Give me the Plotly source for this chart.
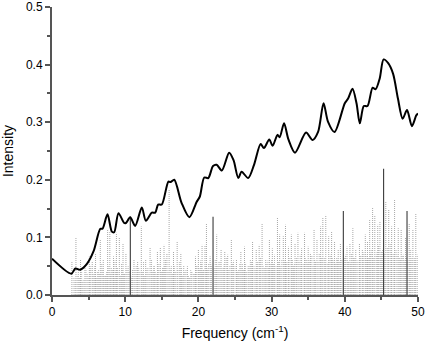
import plotly.graph_objects as go

# Calculated spectrum (broadened)
spec_x = [0, 2.63, 3.2, 3.86, 4.77, 5.68, 6.6, 6.9, 7.58, 8.18, 8.5, 9.08, 9.86, 10.1,
          10.68, 11.36, 12.27, 12.82, 13.64, 14.1, 14.5, 15.0, 15.9, 16.2, 16.7, 17.7,
          18.77, 19.77, 20.2, 20.8, 21.35, 22.0, 22.5, 23.2, 24.2, 24.8, 25.45, 25.9,
          26.8, 27.6, 28.5, 28.95, 29.68, 30.14, 30.8, 31.1, 31.7, 32.3, 33.2, 34.7,
          35.6, 36.35, 37.1, 37.7, 38.6, 40.0, 40.45, 41.05, 41.6, 42.05, 42.6, 43.1,
          43.8, 44.2, 44.77, 45.3, 45.9, 46.6, 47.26, 47.9, 48.5, 49.17, 49.77, 50.0]
spec_y = [0.063, 0.037, 0.046, 0.044, 0.054, 0.076, 0.115, 0.115, 0.140, 0.110, 0.109,
          0.142, 0.125, 0.125, 0.135, 0.120, 0.152, 0.129, 0.143, 0.143, 0.157, 0.157,
          0.197, 0.196, 0.200, 0.160, 0.135, 0.162, 0.171, 0.204, 0.203, 0.224, 0.226,
          0.216, 0.247, 0.234, 0.203, 0.214, 0.203, 0.226, 0.262, 0.255, 0.270, 0.259,
          0.278, 0.274, 0.298, 0.270, 0.247, 0.282, 0.269, 0.283, 0.333, 0.301, 0.283,
          0.333, 0.341, 0.358, 0.333, 0.298, 0.328, 0.328, 0.360, 0.357, 0.376, 0.409,
          0.403, 0.384, 0.341, 0.306, 0.321, 0.293, 0.312, 0.315]

# Gray dotted stick modes (frequency, intensity)
stick_x = [2.72, 3.27, 3.9, 4.5, 5.1, 5.5, 5.95, 6.6, 7.0, 7.6, 7.9, 8.4, 8.8, 9.2, 9.7,
           10.1, 11.2, 11.7, 12.2, 12.8, 13.4, 13.9, 14.4, 14.8, 15.3, 15.7, 16.0, 16.6,
           17.1, 17.6, 18.0, 18.5, 19.1, 19.6, 20.0, 20.5, 20.9, 21.1, 21.6, 22.5, 23.1,
           23.6, 24.0, 24.5, 25.2, 25.8, 26.3, 26.8, 27.4, 27.9, 28.3, 28.7, 29.2, 29.7,
           30.1, 30.8, 31.1, 31.6, 31.9, 32.3, 32.7, 33.2, 33.6, 34.1, 34.5, 35.0, 35.3,
           35.8, 36.2, 36.7, 37.0, 37.4, 37.8, 38.2, 38.6, 39.1, 39.4, 40.3, 40.7, 41.1,
           41.5, 42.0, 42.4, 42.8, 43.1, 43.4, 43.8, 44.1, 44.5, 44.8, 45.6, 46.0, 46.4,
           46.8, 47.3, 47.7, 48.3, 48.8, 49.3, 49.7]
stick_y = [0.058, 0.099, 0.061, 0.048, 0.067, 0.058, 0.073, 0.096, 0.061, 0.113, 0.110,
           0.067, 0.108, 0.099, 0.090, 0.073, 0.061, 0.058, 0.119, 0.061, 0.082, 0.050,
           0.076, 0.082, 0.087, 0.073, 0.183, 0.076, 0.093, 0.073, 0.052, 0.050, 0.041,
           0.067, 0.079, 0.087, 0.087, 0.125, 0.067, 0.105, 0.079, 0.076, 0.070, 0.096,
           0.061, 0.076, 0.084, 0.050, 0.093, 0.079, 0.087, 0.125, 0.061, 0.096, 0.081,
           0.134, 0.105, 0.102, 0.122, 0.084, 0.105, 0.090, 0.108, 0.081, 0.108, 0.084,
           0.073, 0.113, 0.096, 0.119, 0.134, 0.139, 0.102, 0.110, 0.093, 0.079, 0.090,
           0.084, 0.090, 0.116, 0.079, 0.090, 0.079, 0.105, 0.093, 0.131, 0.151, 0.139,
           0.122, 0.128, 0.162, 0.148, 0.119, 0.165, 0.116, 0.113, 0.099, 0.125, 0.113,
           0.142]
# Shorter background sticks filling the dense lower band
short_x = [3.0, 3.6, 4.2, 4.8, 5.3, 6.2, 6.8, 7.3, 8.1, 8.6, 9.0, 9.5, 9.9, 10.4, 11.0,
           11.5, 12.0, 12.5, 13.1, 13.6, 14.1, 14.6, 15.1, 15.5, 16.3, 16.9, 17.4, 17.8,
           18.3, 18.8, 19.3, 19.8, 20.3, 20.7, 21.4, 21.8, 22.3, 22.8, 23.4, 23.8, 24.3,
           24.8, 25.5, 26.0, 26.6, 27.1, 27.6, 28.1, 28.5, 29.0, 29.5, 29.9, 30.4, 30.6,
           31.4, 32.1, 32.5, 33.0, 33.4, 33.9, 34.3, 34.8, 35.5, 36.0, 36.5, 37.2, 37.6,
           38.0, 38.4, 38.9, 39.6, 40.1, 40.5, 40.9, 41.3, 41.8, 42.2, 42.6, 43.0, 43.6,
           44.3, 44.6, 45.0, 45.8, 46.2, 46.6, 47.0, 47.5, 48.0, 48.6, 49.0, 49.5, 49.9]
short_y = [0.030, 0.045, 0.025, 0.038, 0.050, 0.040, 0.055, 0.035, 0.048, 0.060, 0.042,
           0.055, 0.038, 0.050, 0.045, 0.052, 0.040, 0.058, 0.047, 0.062, 0.040, 0.055,
           0.048, 0.063, 0.050, 0.040, 0.057, 0.035, 0.045, 0.030, 0.038, 0.052, 0.060,
           0.045, 0.055, 0.050, 0.062, 0.058, 0.048, 0.065, 0.052, 0.060, 0.045, 0.055,
           0.040, 0.062, 0.050, 0.058, 0.066, 0.048, 0.060, 0.055, 0.070, 0.050, 0.062,
           0.058, 0.066, 0.050, 0.064, 0.070, 0.055, 0.062, 0.068, 0.058, 0.072, 0.064,
           0.056, 0.070, 0.060, 0.066, 0.062, 0.070, 0.058, 0.072, 0.064, 0.060, 0.068,
           0.074, 0.062, 0.080, 0.070, 0.085, 0.076, 0.082, 0.090, 0.072, 0.078, 0.066,
           0.070, 0.060, 0.080, 0.064, 0.070]
# Lowest, densest sticks near the baseline
low_x = [3.15, 3.45, 3.75, 4.05, 4.35, 4.65, 4.95, 5.2, 5.65, 5.8, 6.05, 6.35, 6.5, 6.95,
         7.15, 7.45, 7.75, 8.0, 8.25, 8.5, 8.7, 8.95, 9.35, 9.6, 9.8, 10.25, 10.55, 10.85,
         11.35, 11.6, 11.85, 12.35, 12.65, 12.95, 13.25, 13.75, 14.0, 14.25, 14.5, 14.95,
         15.2, 15.4, 15.85, 16.15, 16.45, 16.75, 17.2, 17.5, 17.7, 18.15, 18.65, 18.95,
         19.45, 19.7, 20.15, 20.4, 20.6, 21.0, 21.25, 21.7, 22.15, 22.4, 22.65, 22.95,
         23.25, 23.5, 23.95, 24.15, 24.65, 25.0, 25.35, 25.65, 25.95, 26.15, 26.45, 26.95,
         27.25, 27.75, 28.0, 28.4, 28.85, 29.35, 29.6, 30.0, 30.25, 30.95, 31.25, 31.75,
         32.0, 32.35, 32.85, 33.1, 33.75, 34.0, 34.6, 34.95, 35.15, 35.65, 35.9, 36.35,
         36.85, 37.3, 37.85, 38.3, 38.75, 39.0, 39.25, 39.95, 40.4, 40.8, 41.2, 41.65,
         42.1, 42.5, 42.9, 43.25, 43.5, 43.95, 44.4, 44.9, 45.15, 45.45, 45.95, 46.35,
         46.75, 47.15, 47.6, 47.85, 48.15, 48.45, 48.9, 49.15, 49.6]
low_y = [0.025, 0.035, 0.030, 0.040, 0.028, 0.045, 0.032, 0.048, 0.036, 0.050, 0.030,
         0.044, 0.038, 0.046, 0.034, 0.040, 0.050, 0.036, 0.045, 0.030, 0.042, 0.048,
         0.034, 0.044, 0.038, 0.046, 0.040, 0.032, 0.045, 0.036, 0.048, 0.040, 0.034,
         0.046, 0.038, 0.042, 0.050, 0.036, 0.044, 0.040, 0.048, 0.052, 0.042, 0.046,
         0.038, 0.050, 0.044, 0.036, 0.048, 0.040, 0.034, 0.044, 0.038, 0.050, 0.046,
         0.054, 0.042, 0.050, 0.046, 0.056, 0.048, 0.044, 0.052, 0.058, 0.046, 0.054,
         0.048, 0.044, 0.056, 0.050, 0.042, 0.054, 0.048, 0.044, 0.056, 0.050, 0.058,
         0.046, 0.054, 0.060, 0.050, 0.056, 0.048, 0.062, 0.054, 0.058, 0.050, 0.060,
         0.056, 0.052, 0.062, 0.054, 0.058, 0.050, 0.064, 0.056, 0.060, 0.052, 0.062,
         0.058, 0.066, 0.054, 0.060, 0.064, 0.056, 0.062, 0.058, 0.066, 0.060, 0.056,
         0.064, 0.060, 0.068, 0.062, 0.070, 0.064, 0.072, 0.066, 0.076, 0.070, 0.080,
         0.072, 0.068, 0.074, 0.064, 0.070, 0.062, 0.068, 0.060, 0.066, 0.058, 0.064,
         0.060]

# Black solid highlighted modes
main_x = [10.7, 22.0, 39.8, 45.3, 48.5]
main_y = [0.136, 0.136, 0.146, 0.219, 0.146]

x_ticks = [0, 10, 20, 30, 40, 50]
y_ticks = [0.0, 0.1, 0.2, 0.3, 0.4, 0.5]


def sticks(xs, ys):
    px, py = [], []
    for a, b in zip(xs, ys):
        px += [a, a, None]
        py += [0, b, None]
    return px, py


fig = go.Figure()
for xs, ys, col in [(low_x, low_y, "#bdbdbd"), (short_x, short_y, "#b5b5b5"),
                    (stick_x, stick_y, "#a8a8a8")]:
    sx, sy = sticks(xs, ys)
    fig.add_trace(go.Scatter(x=sx, y=sy, mode="lines",
                             line=dict(color=col, width=1, dash="1px,1px"),
                             hoverinfo="skip", showlegend=False))
mx, my = sticks(main_x, main_y)
fig.add_trace(go.Scatter(x=mx, y=my, mode="lines",
                         line=dict(color="#3a3a3a", width=1.1),
                         hoverinfo="skip", showlegend=False))
fig.add_trace(go.Scatter(x=spec_x, y=spec_y, mode="lines",
                         line=dict(color="black", width=2, shape="spline", smoothing=0.8),
                         showlegend=False))

font_main = "Liberation Sans, Arial, sans-serif"
axis_common = dict(showgrid=False, zeroline=False, showline=True, linecolor="#555555",
                   linewidth=2, ticks="outside", tickcolor="#555555", tickwidth=2,
                   ticklen=5, tickfont=dict(family=font_main, size=12, color="black"),
                   mirror=False, automargin=False)

fig.update_xaxes(range=[0, 50], tickvals=x_ticks, ticktext=[str(v) for v in x_ticks],
                 minor=dict(tickvals=[5, 15, 25, 35, 45], ticks="outside", ticklen=3,
                            tickcolor="#555555", tickwidth=2),
                 title=dict(text="Frequency (cm<sup>-1</sup>)",
                            font=dict(family=font_main, size=14, color="black")),
                 **axis_common)
fig.update_yaxes(range=[0, 0.5], tickvals=y_ticks, ticktext=[f"{v:.1f}" for v in y_ticks],
                 minor=dict(tickvals=[0.05, 0.15, 0.25, 0.35, 0.45], ticks="outside", ticklen=3,
                            tickcolor="#555555", tickwidth=2),
                 title=dict(text="Intensity",
                            font=dict(family=font_main, size=14, color="black")),
                 **axis_common)

fig.update_layout(width=426, height=341, margin=dict(l=52, r=8, t=7, b=46),
                  plot_bgcolor="white", paper_bgcolor="white", showlegend=False)

fig.write_html("out.html", config={"displayModeBar": False},
               post_script="document.body.style.margin='0px';document.body.style.padding='0px';")
